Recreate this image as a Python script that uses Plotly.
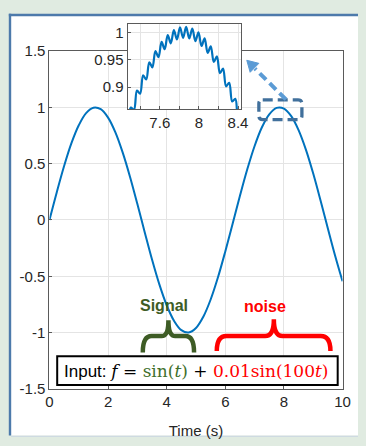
import plotly.graph_objects as go

# ---------------- data ----------------
main_t = [0, 0.25, 0.5, 0.75, 1, 1.25, 1.5, 1.75, 2, 2.25, 2.5, 2.75, 3, 3.25, 3.5, 3.75,
          4, 4.25, 4.5, 4.75, 5, 5.25, 5.5, 5.75, 6, 6.25, 6.5, 6.75, 7, 7.25, 7.5, 7.75,
          8, 8.25, 8.5, 8.75, 9, 9.25, 9.5, 9.75, 10]
main_f = [0.000, 0.247, 0.479, 0.682, 0.841, 0.949, 0.997, 0.984, 0.909, 0.778, 0.598, 0.382,
          0.141, -0.108, -0.351, -0.572, -0.757, -0.895, -0.978, -0.999, -0.959, -0.859,
          -0.706, -0.509, -0.279, -0.033, 0.215, 0.450, 0.657, 0.823, 0.938, 0.995, 0.989,
          0.922, 0.798, 0.625, 0.412, 0.173, -0.075, -0.319, -0.544]

inset_t = [7.2728, 7.3042, 7.3356, 7.3670, 7.3985, 7.4299, 7.4613, 7.4927, 7.5241, 7.5555,
           7.5869, 7.6184, 7.6498, 7.6812, 7.7126, 7.7440, 7.7754, 7.8069, 7.8383, 7.8697,
           7.9011, 7.9325, 7.9639, 7.9954, 8.0268, 8.0582, 8.0896, 8.1210, 8.1524, 8.1838,
           8.2153, 8.2467, 8.2781, 8.3095, 8.3409, 8.3723, 8.4038, 8.4352]
inset_f = [0.8258, 0.8626, 0.8586, 0.8938, 0.8880, 0.9214, 0.9139, 0.9454, 0.9361, 0.9658,
           0.9546, 0.9824, 0.9692, 0.9951, 0.9800, 1.0040, 0.9869, 1.0089, 0.9899, 1.0099,
           0.9889, 1.0069, 0.9840, 1.0000, 0.9751, 0.9892, 0.9624, 0.9746, 0.9458, 0.9561,
           0.9254, 0.9339, 0.9014, 0.9080, 0.8738, 0.8786, 0.8426, 0.8458]

main_xticks = [0, 2, 4, 6, 8, 10]
main_xticktext = ["0", "2", "4", "6", "8", "10"]
main_yticks = [-1.5, -1, -0.5, 0, 0.5, 1, 1.5]
main_yticktext = ["-1.5", "-1", "-0.5", "0", "0.5", "1", "1.5"]
inset_xticks = [7.4, 7.6, 7.8, 8.0, 8.2, 8.4]
inset_xticktext = ["", "7.6", "", "8", "", "8.4"]
inset_yticks = [0.9, 0.95, 1.0]
inset_yticktext = ["0.9", "0.95", "1"]

x_title = "Time (s)"
signal_label = "Signal"
noise_label = "noise"
formula_html = ("<span style=\"font-family:Liberation Sans\">Input: </span><i>f</i> = "
                "<span style=\"color:#41702c\">sin(<i>t</i>)</span> + "
                "<span style=\"color:#ff0000\">0.01sin(100<i>t</i>)</span>")

# ---------------- layout helpers ----------------
W, H = 366, 446


def px(x):
    return x / W


def py(y):
    return 1 - y / H


LINE_BLUE = "#0072BD"
TXT = "#262626"
GRID = "#e4e4e4"
AXLINE = "#5a5a5a"
FONT = "Liberation Sans, Arial, sans-serif"

fig = go.Figure()
fig.add_trace(go.Scatter(x=main_t, y=main_f, mode="lines", line=dict(color=LINE_BLUE, width=2, shape="spline"),
                         xaxis="x", yaxis="y", showlegend=False, hoverinfo="skip"))
fig.add_trace(go.Scatter(x=inset_t, y=inset_f, mode="lines", line=dict(color=LINE_BLUE, width=2.2, shape="spline"),
                         xaxis="x2", yaxis="y2", showlegend=False, hoverinfo="skip"))

axis_common = dict(showgrid=True, gridcolor=GRID, gridwidth=1, zeroline=False, showline=True,
                   linecolor=AXLINE, linewidth=1, mirror=True, ticks="inside", ticklen=3,
                   tickcolor=AXLINE, tickfont=dict(family=FONT, size=15, color=TXT))

fig.update_layout(
    width=W, height=H,
    margin=dict(l=0, r=0, t=0, b=0),
    paper_bgcolor="#e0ebe1",
    plot_bgcolor="white",
    hovermode=False,
    xaxis=dict(domain=[px(47), px(350)], range=[0, 10], tickvals=main_xticks, ticktext=main_xticktext,
               anchor="y", ticklabelstandoff=-1,
               title=dict(text=x_title, font=dict(family=FONT, size=15, color=TXT), standoff=16),
               **axis_common),
    yaxis=dict(domain=[py(395), py(43.7)], range=[-1.5, 1.5], tickvals=main_yticks, ticktext=main_yticktext,
               anchor="x", **axis_common),
    xaxis2=dict(domain=[px(127.7), px(245)], range=[7.27, 8.43], tickvals=inset_xticks, ticktext=inset_xticktext,
                anchor="y2", ticklabelstandoff=0, **axis_common),
    yaxis2=dict(domain=[py(104), py(15.7)], range=[0.86, 1.015], tickvals=inset_yticks, ticktext=inset_yticktext,
                anchor="x2", **axis_common),
)

shapes = []
# white panel + blue frame
shapes.append(dict(type="rect", xref="paper", yref="paper", x0=px(7.3), x1=1, y0=py(443.5), y1=py(7.3),
                   fillcolor="white", line=dict(width=0), layer="below"))
shapes.append(dict(type="line", xref="paper", yref="paper", x0=px(6.2), x1=px(6.2), y0=py(443.5), y1=py(5),
                   line=dict(color="#4d7aab", width=2.4), layer="below"))
shapes.append(dict(type="line", xref="paper", yref="paper", x0=px(5), x1=1, y0=py(6.2), y1=py(6.2),
                   line=dict(color="#4d7aab", width=2.4), layer="below"))
shapes.append(dict(type="line", xref="paper", yref="paper", x0=px(7.3), x1=1, y0=py(444.2), y1=py(444.2),
                   line=dict(color="#c9d5e2", width=1), layer="below"))


def rrect(x0, y0, x1, y1, r):
    return (f"M {px(x0 + r)},{py(y0)} L {px(x1 - r)},{py(y0)} Q {px(x1)},{py(y0)} {px(x1)},{py(y0 + r)} "
            f"L {px(x1)},{py(y1 - r)} Q {px(x1)},{py(y1)} {px(x1 - r)},{py(y1)} "
            f"L {px(x0 + r)},{py(y1)} Q {px(x0)},{py(y1)} {px(x0)},{py(y1 - r)} "
            f"L {px(x0)},{py(y0 + r)} Q {px(x0)},{py(y0)} {px(x0 + r)},{py(y0)} Z")


def brace(x0, x1, xm, yb, yh, yt, re, rt):
    return (f"M {px(x0)},{py(yb)} Q {px(x0)},{py(yh)} {px(x0 + re)},{py(yh)} "
            f"L {px(xm - rt)},{py(yh)} Q {px(xm)},{py(yh)} {px(xm)},{py(yt)} "
            f"Q {px(xm)},{py(yh)} {px(xm + rt)},{py(yh)} "
            f"L {px(x1 - re)},{py(yh)} Q {px(x1)},{py(yh)} {px(x1)},{py(yb)}")


# dashed zoom box
shapes.append(dict(type="path", xref="paper", yref="paper", path=rrect(263.5, 94.5, 308, 115, 4),
                   line=dict(color="#41709c", width=3.3, dash="10px,5px")))
# dashed arrow
shapes.append(dict(type="line", xref="paper", yref="paper", x0=px(291.5), y0=py(94), x1=px(259.5), y1=py(62),
                   line=dict(color="#5b9bd5", width=4, dash="9px,5px")))
shapes.append(dict(type="path", xref="paper", yref="paper",
                   path=f"M {px(251)},{py(53.3)} L {px(263.5)},{py(56.5)} L {px(254.5)},{py(65.8)} Z",
                   fillcolor="#5b9bd5", line=dict(color="#5b9bd5", width=1)))
# braces
shapes.append(dict(type="path", xref="paper", yref="paper",
                   path=brace(143.5, 196.5, 170, 357, 340, 323.5, 9, 7),
                   line=dict(color="#3e5c25", width=4.5)))
shapes.append(dict(type="path", xref="paper", yref="paper",
                   path=brace(220, 337.5, 279, 355.5, 340, 322.5, 10, 9),
                   line=dict(color="#ff0000", width=4.5)))
# formula box
shapes.append(dict(type="rect", xref="paper", yref="paper", x0=px(55), x1=px(345), y0=py(391), y1=py(361),
                   fillcolor="white", line=dict(color="black", width=2)))
fig.update_layout(shapes=shapes)

annotations = [
    dict(text=formula_html, xref="paper", yref="paper", x=px(199), y=py(376), xanchor="center",
         yanchor="middle", showarrow=False, font=dict(family="DejaVu Serif, serif", size=17, color="black")),
    dict(text=f"<b>{signal_label}</b>", xref="paper", yref="paper", x=px(165.5), y=py(308.5),
         xanchor="center", yanchor="middle", showarrow=False, font=dict(family=FONT, size=16, color="#3e5c25")),
    dict(text=f"<b>{noise_label}</b>", xref="paper", yref="paper", x=px(270), y=py(309.5),
         xanchor="center", yanchor="middle", showarrow=False, font=dict(family=FONT, size=16, color="#ff0000")),
]
fig.update_layout(annotations=annotations)

fix_page = ("var s=document.createElement('style');"
            "s.innerHTML='html,body{margin:0!important;padding:0!important;overflow:hidden!important;}';"
            "document.head.appendChild(s);")
fig.write_html("out.html", config={"displayModeBar": False, "responsive": False}, post_script=fix_page)
